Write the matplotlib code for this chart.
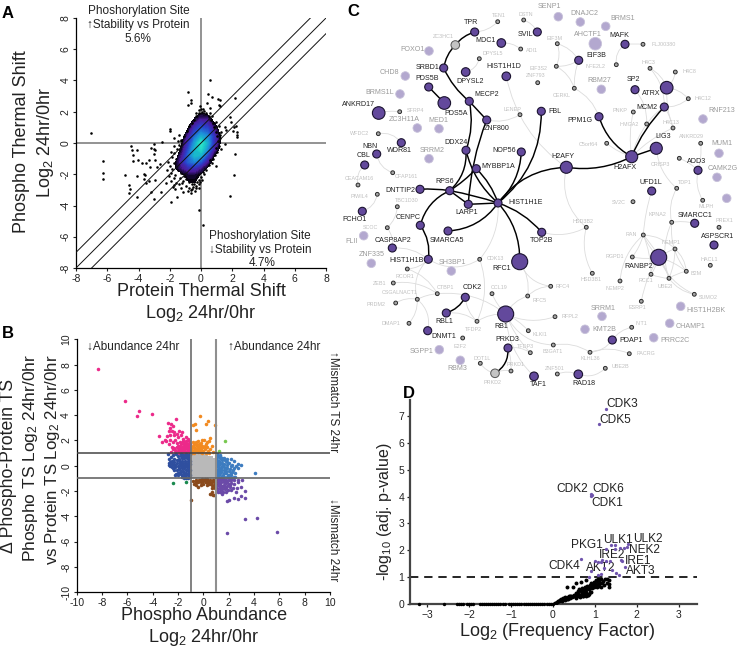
import numpy as np
import matplotlib
matplotlib.use("Agg")
import matplotlib.pyplot as plt
from matplotlib.colors import LinearSegmentedColormap, ListedColormap
from matplotlib.patches import Circle, PathPatch
from matplotlib.path import Path

plt.rcParams['font.family'] = ['Liberation Sans', 'DejaVu Sans']
plt.rcParams['mathtext.fontset'] = 'custom'
plt.rcParams['mathtext.rm'] = 'Liberation Sans'
plt.rcParams['mathtext.default'] = 'regular'
plt.rcParams['axes.unicode_minus'] = False

W, H = 738, 653

# ---------- Panel A data ----------
a_outliers_x = [-7.04,-6.25,-6.25,-6.25,-4.88,-4.6,-4.52,-4.63,-4.12,-4.09,-4.48,-4.41,-4.35,-4.35,-4.03,-4.09,-3.77,-3.52,-3.3,-3.2,-3.03,-3.03,-2.96,-2.99,-2.92,-3.28,-2.81,-2.6,-3.67,-3.56,-3.62,-3.52,-3.35,-2.92,-3.2,-2.99,-2.54,-2.24,-1.9,-1.81,-1.64,-1.54,-1.15,-0.15,0.11,1.88,2.13,2.15,1.56,2.26,2.3,2.3,2.3,2.15,0.55,-0.85,0.45,-0.62,-0.62,0.7,1.09,1.24,1.13,1.24,0.38,0.6,-0.83,-0.04,0.02,-0.11,-1.96,-1.96,-2.49,-1.75,-1.43,1.83,1.92,1.56,1.6,2.09,2.03,1.13,1.24]
a_outliers_y = [0.66,-1.13,-1.94,-2.28,-2.07,-2.69,-2.96,-3.2,-2.11,-3.45,-0.21,-0.47,-0.79,-1.13,-1.07,-0.47,-1.26,-1.28,-1.07,-0.32,-0.09,-0.36,-0.47,-0.72,-1.11,-1.54,-1.54,-1.32,-2.0,-2.03,-2.28,-2.54,-2.43,-2.39,-3.13,-3.56,-3.13,-2.56,-3.8,-2.81,-2.92,-3.45,-3.13,-4.26,-5.25,-3.37,-2.07,-0.68,-0.04,1.07,0.7,0.49,0.38,2.9,4.05,3.26,3.11,2.73,2.56,2.94,2.84,2.73,2.41,2.35,2.58,2.26,2.45,2.35,2.2,2.09,0.92,0.77,0.06,0.34,0.49,1.66,1.34,1.02,0.85,1.02,0.77,0.66,0.49]
a_rim_x = [-2.1,-2.0,-2.2,-1.9,-2.05,-1.75,-1.95,-1.6,-1.4,-1.7,-1.3,-1.15,-0.95,-0.85,-0.65,-0.55,-0.4,-0.3,-0.45,-0.15,-0.05,0.05,-0.1,0.2,0.35,0.5,0.6,0.75,0.95,1.05,0.95,1.15,1.1,1.2,1.05,0.95,0.85,0.75,0.65,0.5,0.35,0.2,0.1,-0.15,-0.3,-0.45,-0.6,-0.75,-0.9,-1.1,-1.25,-1.4,-1.55,-1.7,-1.85,-1.3,-1.5,-1.7,-1.95,0.55,0.7,0.95,1.15,1.3,1.25]
a_rim_y = [-1.2,-1.5,-1.7,-1.9,-2.1,-2.25,-2.4,-2.55,-2.6,-2.7,-2.85,-2.4,-2.75,-3.05,-3.2,-2.95,-3.1,-2.75,-2.6,-2.65,-2.5,-2.35,-2.9,-2.0,-1.7,-1.4,-1.1,-1.0,-1.45,-0.55,-0.3,-0.2,0.1,0.3,0.45,0.7,1.0,1.25,1.5,1.7,1.95,2.05,2.2,1.95,1.75,1.5,1.3,1.1,0.75,0.45,0.15,-0.1,-0.4,-0.65,-0.9,0.2,0.1,-0.2,-0.6,1.95,1.75,1.35,1.1,0.7,-0.4]
a_fringe_x = [-1.6,-1.45,-1.25,-1.05,-1.5,-1.3,-1.1,-1.75,-1.55,-1.35,-1.85,-1.65,-1.2,-0.95,-0.8,-0.7,-0.6,-0.45,-0.3,-0.15,0.0,-0.75,-0.5,-0.25,-0.65,-0.35,-0.9,-1.05,-0.2,0.1,0.25,0.4,-0.05,0.15,0.3,0.45,0.6,-0.3,-0.2,-0.1,0.05,0.2,0.35,0.8,1.0,1.1,0.9,0.7,-1.15,-1.0,-0.85,-1.05,-0.95]
a_fringe_y = [-1.05,-1.2,-1.35,-1.6,-1.75,-1.9,-2.1,-1.3,-1.5,-2.25,-1.65,-2.05,-2.55,-2.3,-2.5,-2.2,-2.65,-2.4,-2.25,-2.35,-2.15,-2.85,-2.8,-2.5,-3.0,-2.9,-2.1,-1.9,-2.05,-1.85,-1.55,-1.25,1.6,1.75,1.55,1.45,1.25,1.9,1.65,1.85,2.0,1.85,1.75,0.85,0.65,-0.1,-0.75,-1.3,0.0,0.3,0.55,-0.25,-0.55]
a_grid_x = [-2.4,-2.0,-1.6,-1.2,-0.8,-0.4,0.0,0.4,0.8,1.2,1.6]
a_grid_y = [2.4,2.0,1.6,1.2,0.8,0.4,0.0,-0.4,-0.8,-1.2,-1.6,-2.0,-2.4,-2.8,-3.2]
a_density = [
 [0,0,0,0,0,0,0,0,0,0,0],
 [0,0,0,0,0,.3,.8,.4,0,0,0],
 [0,0,0,0,.2,1.0,1.8,1.7,.5,0,0],
 [0,0,0,0,.6,2.2,3.4,3.0,1.3,.2,0],
 [0,0,0,.2,1.3,3.6,5,4.4,2.6,.6,0],
 [0,0,0,.6,2.4,5,7,6,3.6,1.1,0],
 [0,0,0,1.0,3.4,6.4,9.5,7,3.4,1.1,0],
 [0,0,.2,1.4,4.2,7.2,8.8,6,2.6,.7,0],
 [0,0,.5,2.2,5,7.4,7,4,1.2,0,0],
 [0,.2,1.0,2.8,4.8,5.6,4.4,2.2,.4,0,0],
 [0,.4,1.1,2.0,3,3,2,.8,0,0,0],
 [0,0,.3,.9,1.4,1.4,.9,.1,0,0,0],
 [0,0,0,.3,1.1,1.1,.6,0,0,0,0],
 [0,0,0,0,.6,.8,.3,0,0,0,0],
 [0,0,0,0,0,0,0,0,0,0,0]]
a_ticks = [-8,-6,-4,-2,0,2,4,6,8]

# ---------- Panel B data ----------
b_pink_x = [-8.29,-6.18,-5.05,-5.2,-4.03,-2.13,-2.76,-3.47,-3.24,-3.03,-2.65,-2.55,-2.4,-2.7,-2.5,-2.3,-2.6,-2.35,-2.1,-1.95,-1.7,-1.75,-2.0,-2.85,-2.95,-2.75,-2.6,-2.4,-2.25,-2.1,-2.5,-2.3,-2.1,-1.9,-1.85,-1.6,-1.4,-1.6,-1.4,-1.2,-1.1,-1.7,-1.5,-1.3,-1.1,-2.15,-1.9,-1.7,-1.5,-1.3,-1.1,-1.15,-1.4,-1.65,-1.9,-2.2,-2.55,-2.0,-1.2,-1.45,-1.6,-1.8,-1.25,-1.05,-1.35,-1.55,-1.8,-2.0,-1.2,-1.05,-1.3,-1.5,-1.75,-1.95,-2.25,-2.4,-1.15,-1.4,-1.6,-1.85,-1.05,-1.25,-1.5]
b_pink_y = [7.66,5.1,4.32,3.97,4.08,3.68,3.37,2.37,1.92,2.05,3.0,3.3,3.15,2.75,2.75,2.65,2.45,2.4,2.55,2.75,2.7,2.45,2.3,2.35,1.95,1.75,2.05,1.85,2.05,1.8,1.5,1.4,1.5,1.6,1.9,2.1,2.25,1.85,1.8,2.1,1.95,1.5,1.55,1.6,1.6,1.2,1.25,1.2,1.25,1.3,1.3,1.1,1.1,1.05,1.05,1.05,1.1,1.4,1.45,1.4,1.35,1.35,1.75,1.75,1.95,1.7,1.7,1.55,1.2,1.4,1.5,1.05,1.35,1.15,1.25,1.3,1.65,1.65,1.95,1.45,1.2,1.05,1.15]
b_orange_x = [-0.8,-0.65,-0.25,0.35,0.2,-0.55,0.95,0.55,-0.1,0.45,0.3,0.05,-0.4,-0.2,-0.75,-0.85,-0.7,-0.5,-0.3,-0.1,0.1,0.3,-0.9,-0.75,-0.55,-0.35,-0.15,0.1,0.35,0.55,-0.9,-0.7,-0.45,-0.25,0.0,0.2,0.45,0.75,-0.55,-0.35,-0.2,0.0,0.2,-0.6,-0.4,0.7,-0.9,-0.65,-0.45,-0.8,-0.6,-0.3,-0.1]
b_orange_y = [3.2,3.3,3.95,3.55,3.3,2.85,3.2,2.2,2.05,1.95,1.85,2.05,1.95,1.8,1.7,1.55,1.45,1.6,1.55,1.6,1.55,1.5,1.25,1.2,1.3,1.35,1.3,1.3,1.2,1.3,1.05,1.05,1.1,1.1,1.15,1.05,1.05,1.1,1.75,1.7,1.2,1.45,1.75,1.15,1.2,1.55,1.45,1.3,1.45,1.9,1.9,1.4,1.05]
b_darkblue_x = [-2.8,-2.7,-2.75,-2.55,-2.4,-2.6,-2.3,-2.15,-2.0,-1.8,-1.6,-1.4,-1.2,-1.05,-2.5,-2.3,-2.1,-1.9,-1.7,-1.5,-1.3,-1.1,-2.7,-2.5,-2.25,-2.05,-1.85,-1.65,-1.45,-1.25,-1.05,-2.4,-2.2,-2.0,-1.8,-1.6,-1.4,-1.2,-1.05,-2.1,-1.9,-1.7,-1.5,-1.3,-1.1,-2.0,-1.8,-1.6,-1.4,-1.2,-1.05,-1.75,-1.55,-1.35,-1.15,-2.15,-1.65,-1.45,-1.25,-1.05,-2.0,-1.5,-1.2,-2.2,-1.35,-1.1,-1.95,-1.75,-1.55,-1.35,-1.15,-1.95,-1.75,-1.55,-1.35,-1.15,-1.85,-1.65,-1.45,-1.25,-1.1,-1.85,-1.65,-1.45,-1.25,-1.1,-2.6,-2.45,-2.3,-2.35]
b_darkblue_y = [0.9,0.55,0.25,0.7,0.85,0.3,0.55,0.9,0.75,0.9,0.85,0.9,0.85,0.9,0.15,0.3,0.45,0.55,0.6,0.65,0.6,0.65,0.05,-0.1,0.1,0.2,0.3,0.35,0.35,0.4,0.4,-0.15,-0.1,0.0,0.05,0.1,0.15,0.15,0.15,-0.35,-0.25,-0.2,-0.15,-0.1,-0.1,-0.55,-0.45,-0.4,-0.35,-0.3,-0.3,-0.65,-0.6,-0.55,-0.5,-0.65,-0.85,-0.8,-0.75,-0.7,-0.75,-1.0,-0.95,-0.7,-0.95,-0.9,0.45,0.75,0.75,0.75,0.75,-0.15,-0.05,-0.05,-0.05,0.05,0.15,0.2,0.2,0.25,0.55,-0.5,-0.7,-0.7,-0.65,-0.45,-0.05,0.4,0.05,-0.3]
b_blue_x = [4.05,3.0,2.75,2.45,2.2,1.85,1.6,1.3,1.1,1.05,1.3,1.5,1.75,2.0,2.3,2.55,2.7,1.05,1.25,1.45,1.65,1.9,2.15,2.4,1.05,1.25,1.45,1.65,1.9,2.1,2.35,1.05,1.2,1.4,1.6,1.8,2.0,2.25,2.5,1.05,1.2,1.4,1.6,1.8,2.0,2.2,2.4,1.05,1.25,1.45,1.65,1.85,2.05,2.3,2.5,1.15,1.35,1.55,1.95,2.15,1.1,1.05,1.15,1.3,1.5,1.7,1.9,1.15,1.35,1.55,1.75,1.15,1.35,1.55,1.2,1.4]
b_blue_y = [-0.55,0.1,0.15,0.35,0.5,0.55,0.6,0.85,0.95,0.7,0.6,0.45,0.35,0.25,0.1,-0.05,-0.15,0.45,0.35,0.2,0.15,0.05,-0.05,-0.15,0.2,0.1,-0.05,-0.1,-0.2,-0.25,-0.35,-0.05,-0.15,-0.3,-0.35,-0.4,-0.45,-0.5,-0.55,-0.35,-0.45,-0.5,-0.55,-0.6,-0.7,-0.75,-0.85,-0.7,-0.75,-0.8,-0.85,-0.9,-0.95,-0.95,-0.9,-0.95,-0.95,-0.95,-0.7,-0.55,-0.6,-0.85,0.8,0.75,0.6,0.45,0.3,0.3,0.2,0.05,-0.2,-0.25,-0.6,-0.75,-0.55,-0.15]
b_purple_x = [5.85,4.2,3.3,1.9,3.3,3.3,3.0,2.75,2.45,2.05,1.9,2.55,2.7,3.05,2.95,2.65,2.4,2.2,2.0,1.8,1.6,1.4,1.2,1.05,1.2,1.4,1.6,1.8,2.0,2.2,2.45,1.05,1.25,1.45,1.65,1.85,2.1,2.35,1.1,1.3,1.5,1.7,1.95,2.2,1.05,1.3,1.55,1.8,1.15,1.5,2.7,1.1,1.35,1.6,1.85,2.1,1.05,1.3,1.55,1.75,1.2,1.45]
b_purple_y = [-5.2,-4.1,-4.2,-5.3,-2.0,-2.55,-2.4,-2.65,-2.55,-2.7,-2.75,-2.1,-1.1,-1.1,-1.65,-1.75,-1.15,-1.1,-1.1,-1.15,-1.1,-1.05,-1.15,-1.25,-1.35,-1.3,-1.3,-1.35,-1.4,-1.35,-1.4,-1.55,-1.55,-1.6,-1.55,-1.6,-1.65,-1.75,-1.75,-1.8,-1.85,-1.85,-1.9,-1.95,-1.95,-2.05,-2.05,-2.1,-2.1,-2.2,-1.3,-1.15,-1.45,-1.7,-1.25,-1.5,-1.4,-1.7,-1.15,-1.75,-1.05,-2.05]
b_brown_x = [-0.95,0.85,0.75,0.6,0.7,0.5,0.95,0.85,0.6,0.35,0.2,0.0,-0.2,-0.4,-0.55,-0.35,-0.1,0.1,0.3,0.55,0.8,-0.2,0.0,0.25,0.45,0.7,0.9,-0.6,-0.4,0.15,0.95,-0.75,0.4,0.65,-0.8,-0.55,-0.25,-0.05,0.2,0.45,0.7,0.9]
b_brown_y = [-2.7,-2.3,-2.3,-2.25,-2.1,-2.2,-1.75,-1.6,-1.4,-1.25,-1.3,-1.2,-1.3,-1.25,-1.1,-1.1,-1.05,-1.05,-1.05,-1.1,-1.1,-1.5,-1.45,-1.5,-1.45,-1.5,-1.3,-1.55,-1.65,-1.15,-1.15,-1.4,-1.2,-1.75,-1.2,-1.3,-1.15,-1.1,-1.25,-1.3,-1.25,-1.45]
b_lightgreen_x = [1.7, 1.25]
b_lightgreen_y = [1.95, 1.2]
b_darkgreen_x = [-2.4, -1.4]
b_darkgreen_y = [-1.35, -1.25]
b_gray_edges_x = [-1.0,-0.8,-0.6,-0.4,-0.2,0.0,0.2,0.4,0.6,0.8,1.0]
b_gray_edges_y = [-1.0,-0.8,-0.6,-0.4,-0.2,0.0,0.2,0.4,0.6,0.8,1.0]
b_gray_cells = [
 [1,1,1,1,1,1,1,1,1,1],
 [1,1,1,1,1,1,1,1,1,1],
 [1,1,1,1,1,1,1,1,1,1],
 [1,1,1,1,1,1,1,1,1,1],
 [1,1,1,1,1,1,1,1,1,1],
 [1,1,1,1,1,1,1,1,1,1],
 [1,1,1,1,1,1,1,1,1,1],
 [1,1,1,1,1,1,1,1,1,1],
 [1,1,1,1,1,1,1,1,1,0],
 [1,1,1,1,1,1,1,0,0,0]]
b_ticks = [-10,-8,-6,-4,-2,0,2,4,6,8,10]

# ---------- Panel D data ----------
d_purple_x = [1.27,1.10,0.90,0.93,0.92,0.66,1.27,1.39,1.49,1.49,1.61,1.70,1.77,1.79,1.01,1.08,1.14,1.18,1.27,1.37,1.63,1.65,1.71,0.91,1.21,1.40,1.51,1.58,1.15,1.07,0.87]
d_purple_y = [7.27,6.70,4.08,4.05,4.02,1.68,2.06,2.21,2.19,2.06,2.08,2.09,2.13,2.24,1.59,1.55,1.55,1.65,1.60,1.59,1.65,1.60,1.38,1.23,1.34,1.28,1.16,1.08,1.13,1.09,1.01]
d_zero_x = [-3.2,-2.6,-2.3,-2.25,-2.2,-2.15,-2.05,-2.0,-1.95,-1.9,-1.75,-1.7,-1.65,-1.6,-1.55,-1.5,-1.45,-1.4,-1.35,-1.3,-1.25,-1.2,-1.15,-1.05,-1.0,-0.95,-0.9,-0.85,-0.8,-0.75,-0.7,-0.65,-0.6,-0.55,-0.5,-0.45,-0.4,-0.35,-0.3,-0.25,-0.2,-0.15,-0.1,-0.05,0.0]
d_ramp_x = [0.02,0.05,0.08,0.1,0.12,0.15,0.18,0.2,0.22,0.25,0.28,0.3,0.33,0.35,0.38,0.4,0.42,0.45,0.48,0.5,0.52,0.55,0.58,0.6,0.62,0.65,0.68,0.7,0.72,0.75,0.78,0.8,0.85,0.88,0.55,0.6,0.63,0.66,0.7,0.73,0.76,0.79,0.82,0.85,0.88,0.9,0.92,0.95,0.98,1.0,1.02,1.05,1.08,1.1,1.12,1.15,1.2,1.25,1.3,1.35,1.35,1.35,1.22,1.1,1.15,1.05,0.97,0.47,0.56,0.68,0.8,0.34,0.16,0.24,0.3,0.36,0.44,0.5,0.57,0.64,0.72,0.77,0.83,0.87,0.92,0.74,0.8,0.86,0.94,1.0,1.04,1.08,1.17,1.28]
d_ramp_y = [0.01,0.03,0.05,0.08,0.12,0.1,0.15,0.2,0.12,0.18,0.22,0.25,0.18,0.27,0.3,0.22,0.3,0.25,0.3,0.35,0.28,0.22,0.3,0.38,0.3,0.25,0.32,0.42,0.3,0.35,0.28,0.38,0.35,0.43,0.42,0.47,0.55,0.5,0.6,0.52,0.62,0.55,0.68,0.6,0.7,0.65,0.78,0.7,0.82,0.75,0.9,0.85,0.95,0.9,0.78,0.95,0.85,0.92,0.95,0.9,0.75,0.65,0.7,0.68,0.62,0.62,0.62,0.62,0.77,0.82,0.9,0.62,0.15,0.22,0.15,0.2,0.28,0.3,0.35,0.35,0.3,0.4,0.32,0.38,0.45,0.48,0.45,0.55,0.58,0.68,0.7,0.75,0.8,0.8]
d_ticks_x = [-3,-2,-1,0,1,2,3]
d_ticks_y = [0,1,2,3,4,5,6,7]
d_names = ["CDK3","CDK5","CDK2","CDK6","CDK1","PKG1","ULK1","ULK2","NEK2","IRE2","IRE1","CDK4","AKT2","AKT3"]
d_names_px = [622,615.7,572.3,608,607,587.3,618,648,644,612,638,564,601,641]
d_names_py = [404.3,420,488.7,488.7,503,545,540,539,550,555,561,566,568,570.7]

# ---------- Panel C data: (name, x, y, radius, label x, label y) ----------
strong_nodes = [("TPR",474.7,32,4,471,22.7),("MDC1",501.3,43,4.3,486,40.7),("SVIL",537.3,32,4,525,34.3),("SRBD1",443.7,68,4,427.3,67.7),("DPYSL2",465.7,72,4.3,470.3,81.7),("HIST1H1D",506.3,76.3,4.3,504,67),("PDS5B",428.7,87,4,426.7,78.7),("PDS5A",444.3,103,6.3,455.7,113.3),("MECP2",469.3,101.3,4,486.7,94.3),("ANKRD17",378.7,113,6.3,358.3,104.7),("ZNF800",486.7,120,4,496.7,128.7),("WDR81",401.3,142.7,4,399.3,150.7),("DDX24",466,150.3,4,455.7,142.7),("NOP56",521.3,152,4,503.7,151),("NBN",376.7,154,4,370.3,146),("CBL",364.7,165,4,363.7,155.3),("MYBBP1A",476.3,168.7,4,498.7,166.7),("DNTTIP2",420,189.3,4,400,190.3),("RPS6",449.7,190.7,4,444.3,181.7),("LARP1",468.3,204.3,4,466.7,212.3),("HIST1H1E",498,203,4,525.7,203),("FCHO1",362.3,211.3,4,354.3,219.3),("CENPC",420.3,225.3,4,408,217.7),("SMARCA5",448,231,4,447.3,240.7),("CASP8AP2",392.3,248,4,393.3,240.3),("HIST1H1B",428.3,259.3,4,406.7,260),("RFC1",519.7,261.7,8,502,268.7),("TOP2B",541.7,232.3,4,541.7,240),("CDK2",465.3,297.3,4,472,287.3),("RBL1",446.3,313,4,444.3,321.3),("DNMT1",427.7,330.7,4,443.7,337),("RB1",505.7,314,8,501.3,327),("PRKD3",508,348,4,507.3,339.7),("TAF1",534,376.3,4.3,538.7,384.7),("RAD18",578.3,374.3,4.3,584,383.3),("FBL",541.3,111.3,4,555.3,111.7),("H2AFY",566.3,167.3,6,562.7,156.7),("H2AFX",631.7,156.7,6,625,167.3),("PPM1G",599,116.7,4,580.3,120.3),("MCM2",664.3,107,4,647.3,107.3),("ATRX",666.7,87.7,6.3,651.3,93.3),("LIG3",656.3,148.3,6,663.3,137),("SP2",635,89.7,4,633.3,79.7),("MAFK",625,44.3,4,619.7,35.7),("EIF3B",578.7,60.3,4,596,55.7),("UFD1L",651.7,191,4,651.3,183),("ADD3",698,170.3,4,696.7,161.7),("SMARCC1",694.7,223.3,4,694.7,215.7),("ASPSCR1",714,245,4,717.3,237),("RANBP2",658.7,257.3,8,639,267),("PDAP1",612.3,340,4,631,341)]
light_nodes = [("FOXO1",429,51,4.3,412.3,49.7),("CHD8",405.3,76,4.3,389.7,73),("BRMS1L",400,94,4.3,379.3,92.7),("ZC3H11A",417.3,128,4.3,404.7,119.3),("MED1",439,128.7,4.3,438.3,120.3),("SRRM2",429,158.7,4.3,431.7,150.3),("SENP1",558.3,16.7,4.3,549,6.7),("DNAJC2",580.3,22,4.3,584.7,13.7),("BRMS1",605.7,26.3,4.3,622.7,18),("AHCTF1",595.3,43.7,6.3,588.3,34),("RBM27",601.3,89.3,4.3,599.7,80),("RNF213",703,119,4.3,721.3,110.7),("MUM1",719,153.3,4.3,722,143.7),("CAMK2G",717,177.3,4.3,723,168),("",726.7,198.3,4.3,726.7,198.3),("FLII",363.7,235.7,4.3,352,241.7),("ZNF335",371.3,263.3,4.3,371.7,254.3),("SH3BP1",451.3,271,4.3,452,262.3),("SGPP1",439.3,349.7,4.3,421.7,351.3),("RBM3",460.3,360.3,4.3,457.3,368),("SRRM1",602,316.3,4.3,603,308.3),("KMT2B",585,329.3,4.3,604,329.3),("HIST1H2BK",680.7,306.3,4.3,705.7,310.7),("CHAMP1",669.7,323.3,4.3,690.3,326),("PRRC2C",653.7,337.7,4.3,674.7,340.3)]
gray_nodes = [("ZC3HC1",455.3,45,4.3,443,36.7),("PRKD2",495,373.3,4.3,492.7,382.3)]
small_nodes = [("TEN1",497.7,21.7,498.7,15.3),("DSTN",523.7,20,525.7,14),("ADI1",520.7,49,531.7,50.7),("DPYSL5",479.3,58.7,492.7,53.3),("ZNF793",537.7,82.7,536,75.7),("LENEP",520,114.7,512,109.7),("SFRP4",399.7,111.7,415.3,111),("WFDC2",378.3,133.7,360,133.3),("CFAP161",392.7,172.7,406.7,177),("CEACAM16",358,185,359,179),("PIWIL4",377.3,194.3,359.7,196.3),("TBC1D30",397.3,206.7,407,200.3),("SCOC",387.3,227.7,370,227.7),("CDK13",479.7,259.3,495,258.3),("RCOR1",407.3,269,405.3,276),("ZEB1",393.3,283,379.7,283.7),("CSGALNACT1",417.3,299.3,400,292.7),("CTBP1",437.3,293.7,445.7,287.7),("CCL19",492,293.7,499,287.7),("PRDM2",395.7,303,376.3,304.3),("DMAP1",409,323.3,391,323.7),("TFDP2",477,321.3,473.7,329.7),("E2F2",462.7,338,460.3,346.3),("DOT1L",480.3,363.3,481.7,358.3),("PRKD1",511,371,515.3,364.7),("TFDP3",530.3,352.7,525,347),("RFC5",527.7,296,539.3,301),("KLKI1",528.3,330.7,540.3,334),("EIF3M",557.3,43.7,555,38.3),("EIF3S2",556.3,66.3,538,68.3),("CERKL",574.3,88.3,562,95.3),("NFE2L2",616.3,64.7,596,66.3),("FLJ00380",643,44.3,663.3,44.3),("H4C3",650,68.3,648,62),("H4C8",675.3,72,689,71.7),("H4C12",688.3,98.7,703,98.3),("PNKP",633.3,112,620.3,110.3),("HMGA2",646.7,124,628.7,124),("H4C13",673,128,670.7,122),("ANKRD29",700.7,143.3,691.7,136.3),("C5orf64",606.7,143.3,588.7,144),("CRISP3",679.3,158.3,660.3,164),("TDP1",676.7,188.3,685,182.3),("SV2C",633,201.7,618.3,203),("MLPH",702.7,200.3,706,206.7),("KPNA2",671.7,222.3,657.3,215),("PREX1",719,227.3,724.3,220.7),("RAN",643.3,235,631.7,234.7),("NEMP1",675,249,670.7,242.7),("RGPD1",632.3,257,615,257),("HACL1",710.3,265.3,709,259.3),("B2M",686.3,271.3,696.3,273.7),("RCC1",651,274.3,645.7,281),("UBE2I",669,278.3,665.3,286.7),("NEMP2",620,281,615,289),("SUMO2",694.3,294.3,708.7,297.7),("ESRP1",641.3,301.3,637.3,307.3),("HSD3B2",586.3,227.3,583,221.3),("HSD3B1",592.3,273.3,590.7,279.3),("RFC4",550.7,286.3,562.3,286.7),("RFPL2",555,316.7,570.3,317),("NIT1",631.7,327.3,641.3,323.3),("B3GAT1",553.3,345,552.3,351.3),("KLHL36",590,352.3,590,358.7),("PACRG",629.3,353.7,646,353.7),("ZNF501",557.3,374,554.7,368),("UBE2B",605.3,368.3,620.7,366.3)]
strong_edges = [("TPR","ZC3HC1",-.08),("ZC3HC1","SRBD1",-.08),("SRBD1","MECP2",-.06),("PDS5B","PDS5A",0),("ZNF800","MECP2",0),("ZNF800","LARP1",-.04),("MECP2","DDX24",.07),("DDX24","RPS6",.12),("DDX24","HIST1H1E",-.08),("MYBBP1A","RPS6",.03),("MYBBP1A","HIST1H1E",.06),("DNTTIP2","RPS6",.03),("RPS6","LARP1",0),("RPS6","HIST1H1E",.02),("LARP1","HIST1H1E",0),("NOP56","HIST1H1E",.1),("FBL","HIST1H1E",.12),("H2AFY","HIST1H1E",-.12),("H2AFY","H2AFX",-.08),("H2AFX","PPM1G",.1),("H2AFX","MCM2",.05),("H2AFX","LIG3",0),("SMARCA5","HIST1H1E",-.12),("TOP2B","HIST1H1E",-.07),("RFC1","HIST1H1E",-.1),("RPS6","CENPC",-.12),("CENPC","HIST1H1B",.1),("CDK2","RBL1",.1),("PRKD3","PRKD2",.15)]
light_edges = [("TEN1","TPR",.1),("DSTN","SVIL",.1),("MDC1","ADI1",.1),("DPYSL5","DPYSL2",.15),("HIST1H1D","H2AFY",-.1),("ZNF800","LENEP",-.1),("ANKRD17","SFRP4",.05),("WFDC2","WDR81",.15),("NBN","CFAP161",-.15),("CBL","CEACAM16",-.15),("PIWIL4","FCHO1",.15),("TBC1D30","SCOC",.1),("SCOC","CASP8AP2",.1),("CASP8AP2","HIST1H1B",.1),("HIST1H1B","CDK13",-.15),("HIST1H1B","CSGALNACT1",-.15),("HIST1H1E","CDK13",.1),("CDK13","TFDP2",.1),("RCOR1","CTBP1",.1),("ZEB1","CTBP1",.1),("CSGALNACT1","CTBP1",.05),("CTBP1","RB1",.1),("CSGALNACT1","DMAP1",.1),("CSGALNACT1","DNMT1",.15),("PRDM2","CSGALNACT1",.1),("RBL1","TFDP2",.1),("CDK2","TFDP2",-.1),("TFDP2","RB1",.08),("RB1","CCL19",.05),("RB1","RFC5",.1),("RFC5","RFC1",-.1),("RFC5","RFC4",.1),("RB1","RFPL2",-.1),("RB1","KLKI1",.05),("RB1","B3GAT1",-.15),("RB1","TFDP3",-.05),("RB1","TAF1",-.1),("PRKD3","TFDP3",.1),("PRKD3","PRKD1",.05),("PRKD2","DOT1L",.1),("PRKD2","PRKD1",.1),("RFC1","RFC4",-.15),("TOP2B","HSD3B2",-.1),("H2AFY","HSD3B2",-.15),("HSD3B2","HSD3B1",-.1),("B3GAT1","KLHL36",.1),("KLHL36","PDAP1",-.12),("KLHL36","PACRG",.1),("PDAP1","NIT1",.1),("RAD18","ZNF501",-.1),("RAD18","UBE2B",-.15),("EIF3M","EIF3B",.1),("EIF3B","EIF3S2",.08),("EIF3M","EIF3S2",.1),("EIF3S2","CERKL",.1),("EIF3B","CERKL",-.05),("CERKL","PPM1G",.1),("MAFK","FLJ00380",.02),("MAFK","NFE2L2",-.15),("H4C3","ATRX",.1),("H4C8","ATRX",.1),("ATRX","H4C12",.1),("H4C12","MCM2",.1),("H4C3","MCM2",.1),("ATRX","H4C13",-.05),("SP2","HMGA2",.1),("H2AFX","HMGA2",.05),("H2AFX","PNKP",.05),("H2AFX","H4C13",.05),("H2AFX","C5orf64",.05),("MCM2","H4C13",.05),("HMGA2","MCM2",.05),("LIG3","TDP1",-.1),("CRISP3","ADD3",.05),("ANKRD29","ADD3",.05),("ADD3","MLPH",-.1),("RANBP2","RAN",.05),("RANBP2","NEMP1",.05),("RAN","NEMP1",.1),("RANBP2","RGPD1",.05),("RANBP2","B2M",.05),("RANBP2","RCC1",.05),("RANBP2","UBE2I",.05),("RAN","RGPD1",.05),("RAN","RCC1",.05),("RAN","UBE2I",.05),("UBE2I","B2M",.05),("UBE2I","RCC1",.05),("NEMP1","B2M",.1),("NEMP1","UBE2I",.05),("UBE2I","KPNA2",.1),("KPNA2","B2M",-.1),("KPNA2","SMARCC1",.05),("RAN","NEMP2",-.1),("UBE2I","SUMO2",-.1),("RANBP2","SUMO2",-.1),("RANBP2","ESRP1",-.05),("TDP1","KPNA2",-.1),("UFD1L","RAN",-.03),("HIST1H1B","RCOR1",.1)]

# ---------- layout helpers ----------
fig = plt.figure(figsize=(W/100, H/100), dpi=100)
fig.patch.set_facecolor('white')

def px_axes(l, r, t, b):
    return fig.add_axes([l/W, 1-b/H, (r-l)/W, (b-t)/H], facecolor='none')

bg = fig.add_axes([0, 0, 1, 1], facecolor='none')
bg.set_xlim(0, W); bg.set_ylim(H, 0); bg.axis('off')

def T(x, y, s, size=8.5, color='#222222', rot=0, weight='normal', ha='center', va='center'):
    bg.text(x, y, s, fontsize=size, color=color, rotation=rot, fontweight=weight, ha=ha, va=va)

# ---------- Panel A ----------
axA = px_axes(76, 326, 18, 268)
axA.set_xlim(-8, 8); axA.set_ylim(-8, 8)
axA.axvline(0, color='#8a8a8a', lw=1.3, zorder=1)
axA.axhline(0, color='#8a8a8a', lw=1.3, zorder=1)
blob = LinearSegmentedColormap.from_list('blob', [(0, '#000000'), (0.05, '#1a0a40'), (0.14, '#4a1a9a'), (0.34, '#2a40cc'), (0.58, '#1d8fd8'), (0.8, '#18c4c8'), (1, '#2ee6c8')])
axA.contourf(a_grid_x, a_grid_y, a_density, levels=np.linspace(1.0, 9.5, 40), cmap=blob, extend='max', zorder=2)
axA.scatter(a_outliers_x, a_outliers_y, s=3.4, c='#000000', lw=0, zorder=3)
axA.scatter(a_rim_x, a_rim_y, s=3.4, c='#000000', lw=0, zorder=3)
axA.scatter(a_fringe_x, a_fringe_y, s=3.4, c='#000000', lw=0, zorder=1.5)
for off in (-1, 0, 1):
    axA.plot([-8, 8], [-8 + off, 8 + off], color='#111111', lw=0.7, zorder=4)
axA.set_xticks(a_ticks); axA.set_yticks(a_ticks)

# ---------- Panel B ----------
axB = px_axes(76.7, 330, 339.3, 592.3)
axB.set_xlim(-10, 10); axB.set_ylim(-10, 10)
axB.pcolormesh(b_gray_edges_x, b_gray_edges_y, np.ma.masked_equal(np.array(b_gray_cells), 0),
               cmap=ListedColormap(['#b9b9b9']), zorder=1)
for xs, ys, col in [(b_pink_x, b_pink_y, '#ec2a8a'), (b_orange_x, b_orange_y, '#f28a20'),
                    (b_darkblue_x, b_darkblue_y, '#2f4f9f'), (b_blue_x, b_blue_y, '#3d7cc0'),
                    (b_purple_x, b_purple_y, '#6b4aa8'), (b_brown_x, b_brown_y, '#8a4a1c'),
                    (b_lightgreen_x, b_lightgreen_y, '#78c850'), (b_darkgreen_x, b_darkgreen_y, '#1a8a4e')]:
    axB.scatter(xs, ys, s=6.5, c=col, lw=0, zorder=2)
axB.axvline(-1, color='#777777', lw=1.3, zorder=3)
axB.axvline(1, color='#8f8f8f', lw=1.5, zorder=3)
axB.axhline(1, color='#444444', lw=1.1, zorder=3)
axB.axhline(-1, color='#666666', lw=1.2, zorder=3)
axB.set_xticks(b_ticks); axB.set_yticks(b_ticks)

for ax in (axA, axB):
    for s in ('top', 'right'):
        ax.spines[s].set_visible(False)
    for s in ('left', 'bottom'):
        ax.spines[s].set_linewidth(0.9)
    ax.tick_params(length=2.5, width=0.8, labelsize=7.5, pad=1.5, colors='#222222')
    for lab in ax.get_yticklabels():
        lab.set_rotation(90); lab.set_va('center')

# ---------- Panel D ----------
axD = px_axes(410, 697, 400, 604)
axD.set_xlim(-3.41, 3.44); axD.set_ylim(0, 7.6)
axD.axhline(1, color='#000000', lw=1.2, dashes=(5, 3.5), zorder=2)
axD.scatter(d_zero_x, [0]*len(d_zero_x), s=6, c='#000000', lw=0, clip_on=False, zorder=4)
axD.scatter(d_ramp_x, d_ramp_y, s=8, c='#000000', lw=0, zorder=3)
axD.scatter(d_purple_x, d_purple_y, s=5.5, c='#6f54ad', lw=0, zorder=3)
axD.set_xticks(d_ticks_x)
axD.set_xticklabels(['\u2212%d' % abs(v) if v < 0 else str(v) for v in d_ticks_x])
axD.set_yticks(d_ticks_y)
for s in ('top', 'right'):
    axD.spines[s].set_visible(False)
for s in ('left', 'bottom'):
    axD.spines[s].set_linewidth(1.6); axD.spines[s].set_color('#444444')
axD.tick_params(length=2.5, width=0.9, labelsize=7.5, pad=1.5, colors='#222222')
for name, x, y in zip(d_names, d_names_px, d_names_py):
    T(x, y, name, size=8.6)

# ---------- Panel C ----------
pos = {}
for n in strong_nodes + light_nodes + gray_nodes:
    if n[0]:
        pos[n[0]] = (n[1], n[2])
for n in small_nodes:
    pos[n[0]] = (n[1], n[2])

def edge(a, b, rad, color, lw, z):
    (x0, y0), (x1, y1) = pos[a], pos[b]
    cx = (x0 + x1)/2 + rad*(y1 - y0)*2
    cy = (y0 + y1)/2 - rad*(x1 - x0)*2
    p = Path([(x0, y0), (cx, cy), (x1, y1)], [Path.MOVETO, Path.CURVE3, Path.CURVE3])
    bg.add_patch(PathPatch(p, fc='none', ec=color, lw=lw, zorder=z))

for a, b, r in light_edges:
    edge(a, b, r, '#dcdcdc', 0.6, 1)
for a, b, r in strong_edges:
    edge(a, b, r, '#000000', 1.05, 2)

for n, x, y, r, lx, ly in strong_nodes:
    bg.add_patch(Circle((x, y), r, fc='#63499c', ec='#1b1330', lw=0.8, zorder=3))
    T(lx, ly, n, size=5.1, color='#222222')
for n, x, y, r, lx, ly in light_nodes:
    bg.add_patch(Circle((x, y), r, fc='#b3a8cf', ec='#c8c2da', lw=0.6, zorder=3))
    if n:
        T(lx, ly, n, size=5.1, color='#9a9a9a')
for n, x, y, r, lx, ly in gray_nodes:
    bg.add_patch(Circle((x, y), r, fc='#c4c4c4', ec='#555555', lw=0.7, zorder=3))
    T(lx, ly, n, size=3.9, color='#c0c0c0')
for n, x, y, lx, ly in small_nodes:
    bg.add_patch(Circle((x, y), 1.9, fc='#a5a5a5', ec='#2c2c2c', lw=0.7, zorder=3))
    T(lx, ly, n, size=3.9, color='#c0c0c0')

# ---------- Panel titles and annotations ----------
T(8, 13, 'A', size=12, color='#000000', weight='bold')
T(8, 334, 'B', size=12, color='#000000', weight='bold')
T(353, 11, 'C', size=12, color='#000000', weight='bold')
T(409, 393, 'D', size=12, color='#000000', weight='bold')

T(138.7, 11, 'Phoshorylation Site')
T(138.7, 25, '\u2191Stability vs Protein')
T(138.3, 39, '5.6%')
T(260, 235.7, 'Phoshorylation Site')
T(260.3, 250, '\u2193Stability vs Protein')
T(262, 263, '4.7%')
T(22, 142, 'Phospho Thermal Shift', size=13, rot=90)
T(45, 142, 'Log$_2$ 24hr/0hr', size=13, rot=90)
T(201.7, 291.7, 'Protein Thermal Shift', size=13)
T(201, 313, 'Log$_2$ 24hr/0hr', size=13)

T(132.7, 347.3, '\u2193Abundance 24hr')
T(274, 347, '\u2191Abundance 24hr')
T(333, 402, '\u2191Mismatch TS 24hr', rot=-90)
T(333, 540, '\u2193Mismatch 24hr', rot=-90)
T(9, 466, '\u0394 Phospho-Protein TS', size=12.7, rot=90)
T(31, 458, 'Phospho TS Log$_2$ 24hr/0hr', size=12.5, rot=90)
T(53, 460, 'vs Protein TS Log$_2$ 24hr/0hr', size=12.2, rot=90)
T(203.7, 616, 'Phospho Abundance', size=13)
T(204, 637.7, 'Log$_2$ 24hr/0hr', size=13)

T(385, 512, '-log$_{10}$ (adj. p-value)', size=11.5, rot=90)
T(557, 631, 'Log$_2$ (Frequency Factor)', size=13)

fig.savefig('out.png', dpi=100)
